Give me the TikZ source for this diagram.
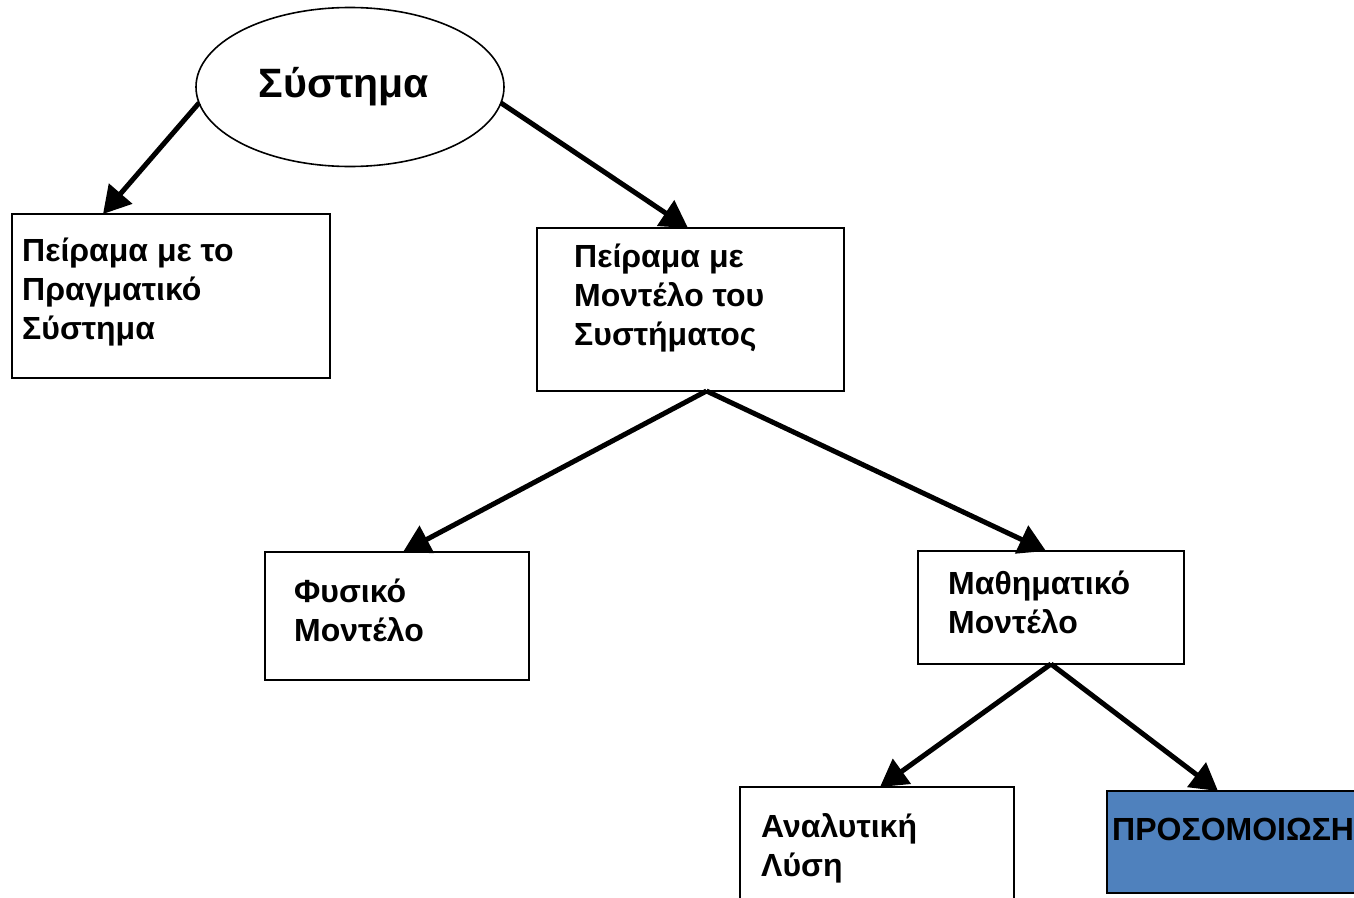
\documentclass[tikz,border=0pt]{standalone}
\usepackage{fontspec}
\setmainfont{Liberation Sans}
\usepackage{tikz}
\usetikzlibrary{arrows.meta, shapes.geometric}
\definecolor{simblue}{HTML}{4F81BD}

\begin{document}
\begin{tikzpicture}[x=1pt, y=-1pt,
        main/.style = {draw, line width=1.6pt, inner sep=0pt, outer sep=0pt, anchor=north west, fill=white},
        txt/.style = {align=left, anchor=north west, inner sep=0pt, font=\fontsize{32}{39}\selectfont\bfseries},
        arr/.style = {-{Triangle[length=27pt, width=30pt]}, line width=5pt}]
            \clip (0,0) rectangle (1354,897);

            \node[draw, ellipse, line width=1.6pt, minimum width=308pt, minimum height=159pt, inner sep=0pt, outer sep=0pt,
                  font=\fontsize{41}{50}\selectfont\bfseries] (sys) at (350,87) {Σύστημα\hspace*{12pt}};

            \node[main, minimum width=318pt, minimum height=164pt] (real) at (12,214) {};
            \node[main, minimum width=307pt, minimum height=163pt] (model) at (537,228) {};
            \node[main, minimum width=264pt, minimum height=128pt] (phys) at (265,552) {};
            \node[main, minimum width=266pt, minimum height=113pt] (math) at (918,551) {};
            \node[main, minimum width=274pt, minimum height=140pt] (anal) at (740,787) {};
            \node[main, fill=simblue, minimum width=280pt, minimum height=102pt] (sim) at (1107,791) {};

            \node[txt] (realtxt) at ([shift={(10,24)}]real.north west) {Πείραμα με το\\Πραγματικό\\Σύστημα};
            \node[txt] (modeltxt) at ([shift={(37,16)}]model.north west) {Πείραμα με\\Μοντέλο του\\Συστήματος};
            \node[txt] (phystxt) at ([shift={(29,27)}]phys.north west) {Φυσικό\\Μοντέλο};
            \node[txt] (mathtxt) at ([shift={(30,20)}]math.north west) {Μαθηματικό\\Μοντέλο};
            \node[txt] (analtxt) at ([shift={(21,26)}]anal.north west) {Αναλυτική\\Λύση};
            \node[txt] (simtxt) at ([shift={(5,27)}]sim.north west) {ΠΡΟΣΟΜΟΙΩΣΗ};

            \path[arr] (sys.186) edge ([xshift=91]real.north west);
            \path[arr] (sys.354) edge ([xshift=151]model.north west);

            \path[arr] ([xshift=16]model.south) edge ([xshift=138]phys.north west);
            \path[arr] ([xshift=16]model.south) edge ([xshift=128]math.north west);

            \path[arr] (math.south) edge ([xshift=140]anal.north west);
            \path[arr] (math.south) edge ([xshift=111]sim.north west);
        \end{tikzpicture}
\end{document}
